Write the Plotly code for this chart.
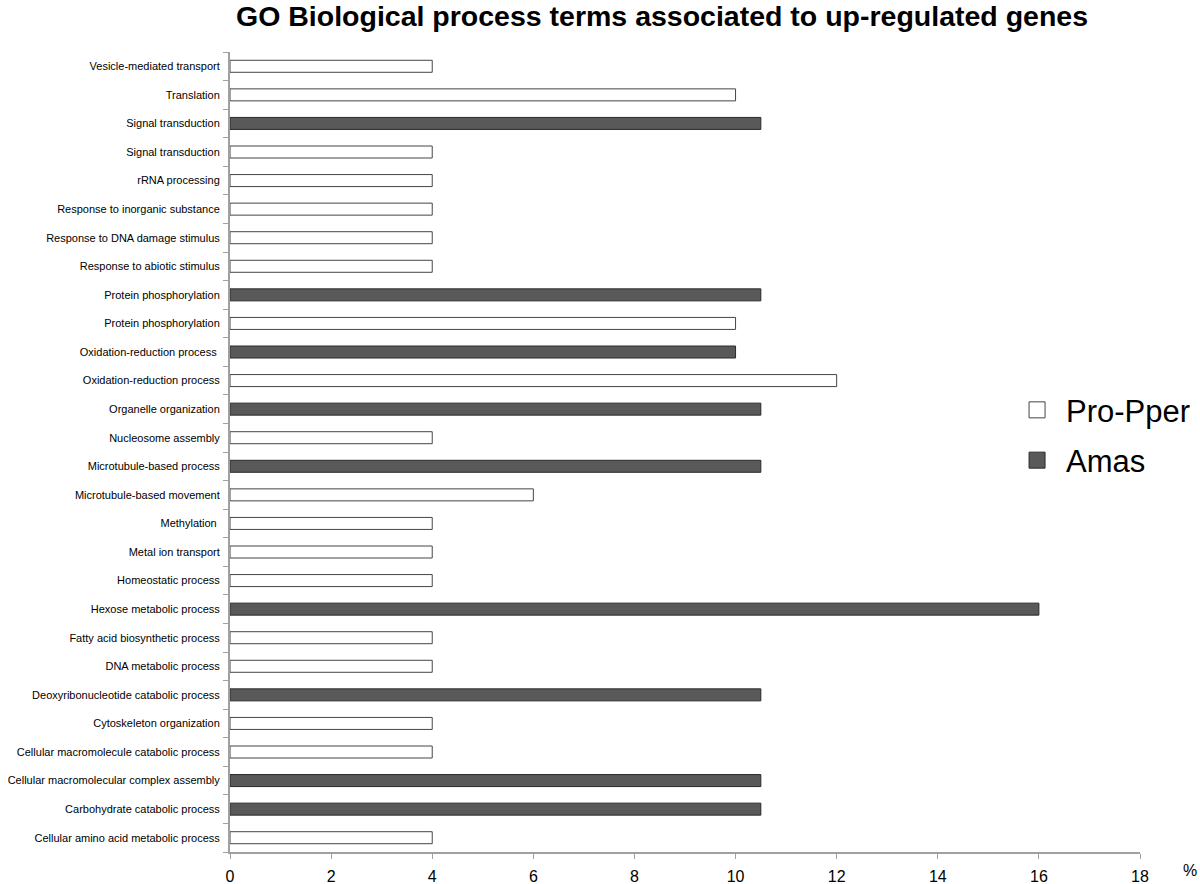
import plotly.graph_objects as go

categories = [
    "Vesicle-mediated transport",
    "Translation",
    "Signal transduction",
    "Signal transduction",
    "rRNA processing",
    "Response to inorganic substance",
    "Response to DNA damage stimulus",
    "Response to abiotic stimulus",
    "Protein phosphorylation",
    "Protein phosphorylation",
    "Oxidation-reduction process ",
    "Oxidation-reduction process",
    "Organelle organization",
    "Nucleosome assembly",
    "Microtubule-based process",
    "Microtubule-based movement",
    "Methylation ",
    "Metal ion transport",
    "Homeostatic process",
    "Hexose metabolic process",
    "Fatty acid biosynthetic process",
    "DNA metabolic process",
    "Deoxyribonucleotide catabolic process",
    "Cytoskeleton organization",
    "Cellular macromolecule catabolic process",
    "Cellular macromolecular complex assembly",
    "Carbohydrate catabolic process",
    "Cellular amino acid metabolic process",
]

pro_pper = [4, 10, None, 4, 4, 4, 4, 4, None, 10, None, 12, None, 4, None, 6,
            4, 4, 4, None, 4, 4, None, 4, 4, None, None, 4]
amas = [None, None, 10.5, None, None, None, None, None, 10.5, None, 10, None, 10.5,
        None, 10.5, None, None, None, None, 16, None, None, 10.5, None, None, 10.5,
        10.5, None]

x_ticks = [0, 2, 4, 6, 8, 10, 12, 14, 16, 18]
series_names = ["Pro-Pper", "Amas"]
series_fill = ["white", "#595959"]
series_edge = ["#444444", "#2a2a2a"]

pos = list(range(len(categories)))

fig = go.Figure()
for name, vals, fill, edge in zip(series_names, [pro_pper, amas], series_fill, series_edge):
    fig.add_trace(go.Bar(
        y=pos, x=vals, orientation="h", name=name, width=0.42, showlegend=False,
        marker=dict(color=fill, line=dict(color=edge, width=1)),
    ))
# legend entries (larger square symbols)
for name, fill, edge in zip(series_names, series_fill, series_edge):
    fig.add_trace(go.Scatter(
        x=[None], y=[None], mode="markers", name=name, legendgroup=name,
        marker=dict(symbol="square", size=16, color=fill, line=dict(color=edge, width=1)),
    ))

fig.update_layout(
    width=1200, height=884,
    barmode="overlay",
    plot_bgcolor="white", paper_bgcolor="white",
    margin=dict(l=230, r=60, t=52, b=32, autoexpand=False),
    font=dict(family="Liberation Sans, Arial, sans-serif", color="black"),
    title=dict(text="<b>GO Biological process terms associated to up-regulated genes</b>",
               x=0.5517, xanchor="center", y=0.982, yanchor="middle",
               xref="container", yref="container",
               font=dict(size=28.5, color="black")),
    legend=dict(x=0.855, y=0.521, xanchor="left", yanchor="middle",
                font=dict(size=31), bgcolor="rgba(0,0,0,0)",
                itemwidth=48, traceorder="grouped", tracegroupgap=7),
    showlegend=True,
)

fig.update_xaxes(
    range=[0, 18], tickvals=x_ticks, ticktext=[str(t) for t in x_ticks],
    showgrid=False, zeroline=False, automargin=False,
    showline=True, linecolor="#a0a0a0", linewidth=2,
    ticks="outside", ticklen=5, tickcolor="#a0a0a0", tickwidth=1,
    tickfont=dict(size=16), ticklabelstandoff=4,
)
fig.update_yaxes(
    range=[len(categories) - 0.5, -0.5],
    tickvals=pos, ticktext=categories,
    showgrid=False, zeroline=False, automargin=False,
    showline=True, linecolor="#a0a0a0", linewidth=2,
    ticks="", tickfont=dict(size=11), ticklabelstandoff=6,
    minor=dict(tickvals=[p - 0.5 for p in pos] + [len(categories) - 0.5],
               ticks="outside", ticklen=5, tickcolor="#a0a0a0", tickwidth=1,
               showgrid=False),
)

fig.add_annotation(text="%", x=1.0, xref="paper", xshift=50, y=0, yref="paper",
                   yshift=-18, showarrow=False, font=dict(size=16), xanchor="center",
                   yanchor="middle")

fig.write_html("out.html",
               config={"displayModeBar": False},
               post_script="document.body.style.margin='0';document.body.style.overflow='hidden';")
